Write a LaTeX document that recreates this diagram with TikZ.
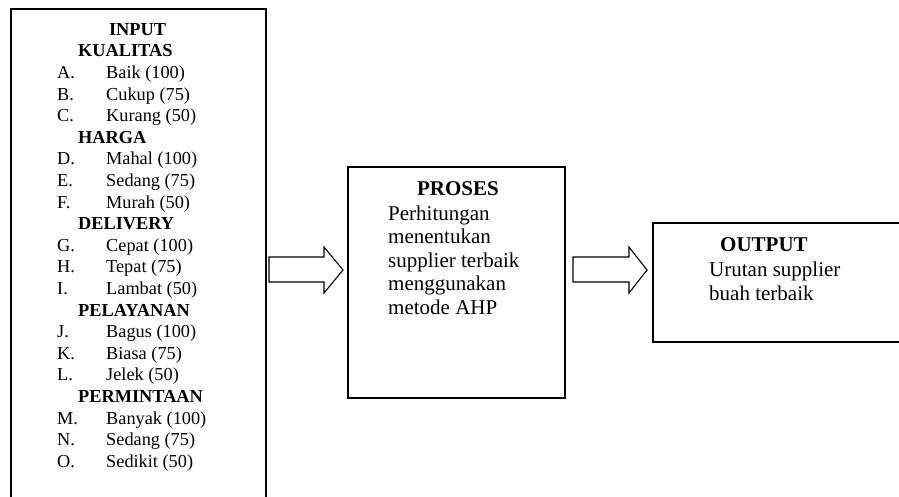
\documentclass[tikz,border=0pt]{standalone}
\usepackage{fontspec}
\setmainfont{Liberation Serif}
\begin{document}
\begin{tikzpicture}[x=1pt,y=-1pt,
  box/.style={draw, line width=1.6pt, inner sep=0pt, anchor=north west},
  blockarrow/.style={draw, line width=1.1pt, line join=miter},
  txt/.style={inner sep=0pt, anchor=base west, font=\fontsize{18.3}{21.6}\selectfont},
  hd/.style={txt, font=\fontsize{18.3}{21.6}\selectfont\bfseries},
  bigtxt/.style={inner sep=0pt, anchor=base west, font=\fontsize{21}{24}\selectfont},
  bighd/.style={bigtxt, font=\fontsize{21}{24}\selectfont\bfseries}
]
\useasboundingbox (0,0) rectangle (899,496);
\fill[white] (0,0) rectangle (899,496);

% three blocks
\node[box, minimum width=255pt, minimum height=510pt] (input) at (10,8) {};
\node[box, minimum width=217pt, minimum height=231pt] (proses) at (347,166) {};
\node[box, minimum width=260pt, minimum height=119pt] (output) at (652,222) {};

% input block contents
\node[hd, anchor=base] (inTitle) at (137.5,35.3) {INPUT};
\foreach \k/\name in {1/KUALITAS, 5/HARGA, 9/DELIVERY, 13/PELAYANAN, 17/PERMINTAAN}
  \node[hd] (grp\k) at (78,35.3+21.6*\k) {\name};
\foreach \k/\lab/\item in {2/A./Baik (100), 3/B./Cukup (75), 4/C./Kurang (50),
                           6/D./Mahal (100), 7/E./Sedang (75), 8/F./Murah (50),
                           10/G./Cepat (100), 11/H./Tepat (75), 12/I./Lambat (50),
                           14/J./Bagus (100), 15/K./Biasa (75), 16/L./Jelek (50),
                           18/M./Banyak (100), 19/N./Sedang (75), 20/O./Sedikit (50)}
{
  \node[txt] (lab\k) at (57,35.3+21.6*\k) {\lab};
  \node[txt] (item\k) at (106,35.3+21.6*\k) {\item};
}

% process block contents
\node[bighd, anchor=base] (prTitle) at (458,195) {PROSES};
\node[bigtxt] (pr1) at (388,220) {Perhitungan};
\node[bigtxt] (pr2) at (388,243.5) {menentukan};
\node[bigtxt] (pr3) at (388,267) {supplier terbaik};
\node[bigtxt] (pr4) at (388,290.5) {menggunakan};
\node[bigtxt] (pr5) at (388,314) {metode AHP};

% output block contents
\node[bighd] (outTitle) at (720,251) {OUTPUT};
\node[bigtxt] (out1) at (709,276) {Urutan supplier};
\node[bigtxt] (out2) at (709,300) {buah terbaik};

% block arrows between the stages
\draw[blockarrow] (269,257) -- (324,257) -- (324,247) -- (343,270)
  -- (324,293) -- (324,282) -- (269,282) -- cycle;
\draw[blockarrow] (573,257) -- (629,257) -- (629,247) -- (647,270)
  -- (629,293) -- (629,282) -- (573,282) -- cycle;
\end{tikzpicture}
\end{document}
